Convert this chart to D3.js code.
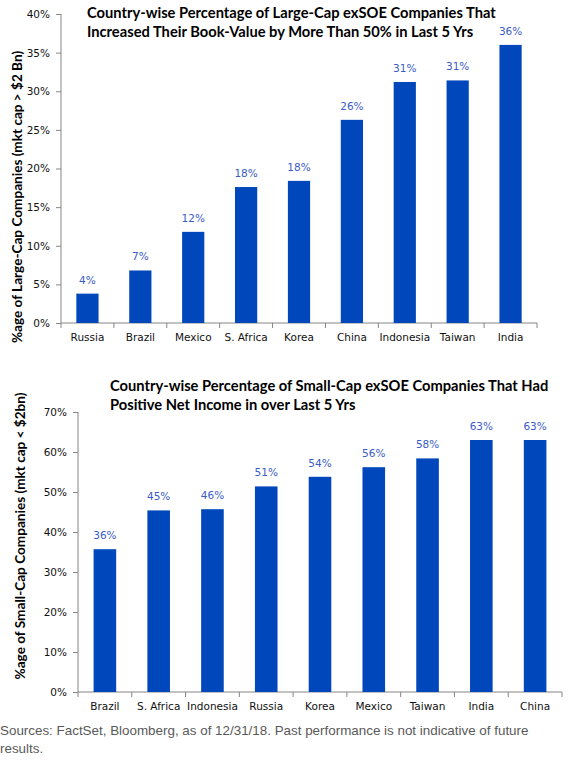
<!DOCTYPE html>
<html>
<head>
<meta charset="utf-8">
<script src="https://cdn.jsdelivr.net/npm/d3@7"></script>
<style>
  body { margin: 0; background: #fff; }
  svg { display: block; }
</style>
</head>
<body>
<div id="chart-area"></div>
<script>
// two bar charts stacked, plus source note
const W = 575, H = 764

const largeCountries = ["Russia", "Brazil", "Mexico", "S. Africa", "Korea", "China", "Indonesia", "Taiwan", "India"]
const largeValues = [0.038, 0.068, 0.118, 0.176, 0.184, 0.263, 0.312, 0.314, 0.360]
const largeTicks = [0, 0.05, 0.10, 0.15, 0.20, 0.25, 0.30, 0.35, 0.40]

const smallCountries = ["Brazil", "S. Africa", "Indonesia", "Russia", "Korea", "Mexico", "Taiwan", "India", "China"]
const smallValues = [0.357, 0.454, 0.457, 0.514, 0.538, 0.562, 0.584, 0.630, 0.630]
const smallTicks = [0, 0.10, 0.20, 0.30, 0.40, 0.50, 0.60, 0.70]

const BAR = "#0047BB"
const LABEL = "#3A5CC8"
const AXIS = "#868686"

const svg = d3.select("#chart-area")
  .append("svg")
  .attr("width", W)
  .attr("height", H)

function barChart(cfg) {
  const g = svg.append("g")

  const x = d3.scaleBand()
    .domain(cfg.cats)
    .range([cfg.left, cfg.right])
    .paddingInner(0.58)
    .paddingOuter(0.29)

  const y = d3.scaleLinear()
    .domain([0, cfg.max])
    .range([cfg.bottom, cfg.top])

  // y axis
  const yAxis = g.append("g")
    .attr("transform", `translate(${cfg.left},0)`)
    .call(d3.axisLeft(y).tickValues(cfg.ticks).tickFormat(d3.format(".0%")).tickSize(5).tickPadding(6))
  yAxis.select(".domain").attr("stroke", AXIS).attr("d", `M0,${cfg.bottom}V${cfg.top}`)
  yAxis.selectAll(".tick line").attr("stroke", AXIS)
  yAxis.selectAll(".tick text")
    .attr("font-family", "DejaVu Sans, Verdana, sans-serif")
    .attr("font-size", 10.5)
    .attr("fill", "#111")

  // x axis, ticks between categories like Excel
  const xAxis = g.append("g")
    .attr("transform", `translate(0,${cfg.bottom})`)
    .call(d3.axisBottom(x).tickSize(0).tickPadding(11))
  xAxis.select(".domain").attr("stroke", AXIS).attr("d", `M${cfg.left},0H${cfg.right}`)
  xAxis.selectAll(".tick text")
    .attr("font-family", "DejaVu Sans, Verdana, sans-serif")
    .attr("font-size", 10.5)
    .attr("fill", "#111")
  xAxis.selectAll(".sep")
    .data(d3.range(cfg.cats.length + 1))
    .enter()
    .append("line")
    .attr("class", "sep")
    .attr("x1", i => x.range()[0] + i * x.step())
    .attr("x2", i => x.range()[0] + i * x.step())
    .attr("y1", 0)
    .attr("y2", 5)
    .attr("stroke", AXIS)

  // bars
  g.selectAll("rect.bar")
    .data(cfg.vals)
    .enter()
    .append("rect")
    .attr("class", "bar")
    .attr("x", (d, i) => x(cfg.cats[i]))
    .attr("width", x.bandwidth())
    .attr("y", d => y(d))
    .attr("height", d => y(0) - y(d))
    .attr("fill", BAR)

  // value labels
  g.selectAll("text.val")
    .data(cfg.vals)
    .enter()
    .append("text")
    .attr("class", "val")
    .attr("x", (d, i) => x(cfg.cats[i]) + x.bandwidth() / 2)
    .attr("y", d => y(d) - 10)
    .attr("text-anchor", "middle")
    .attr("font-family", "DejaVu Sans, Verdana, sans-serif")
    .attr("font-size", 10.5)
    .attr("fill", LABEL)
    .text(d => d3.format(".0%")(d))

  // title
  const t = g.append("text")
    .attr("font-family", "Lato, sans-serif")
    .attr("font-weight", "bold")
    .attr("font-size", 14.7)
    .attr("fill", "#000")
  cfg.title.forEach((line, i) => {
    t.append("tspan")
      .attr("x", cfg.titleX)
      .attr("y", cfg.titleY + i * 19)
      .text(line)
  })

  // y label
  g.append("text")
    .attr("transform", `translate(${cfg.ylabX},${cfg.ylabY}) rotate(-90)`)
    .attr("text-anchor", "middle")
    .attr("font-family", "Lato, sans-serif")
    .attr("font-weight", "bold")
    .attr("font-size", 13.6)
    .attr("fill", "#000")
    .text(cfg.ylab)
}

barChart({
  cats: largeCountries, vals: largeValues, ticks: largeTicks, max: 0.40,
  left: 61, right: 537, top: 14, bottom: 323,
  title: ["Country-wise Percentage of Large-Cap exSOE Companies That",
          "Increased Their Book-Value by More Than 50% in Last 5 Yrs"],
  titleX: 87, titleY: 18,
  ylab: "%age of Large-Cap Companies (mkt cap > $2 Bn)", ylabX: 22, ylabY: 197
})

barChart({
  cats: smallCountries, vals: smallValues, ticks: smallTicks, max: 0.70,
  left: 78, right: 562, top: 412, bottom: 692,
  title: ["Country-wise Percentage of Small-Cap exSOE Companies That Had",
          "Positive Net Income in over Last 5 Yrs"],
  titleX: 110, titleY: 391,
  ylab: "%age of Small-Cap Companies (mkt cap < $2bn)", ylabX: 25, ylabY: 536
})

// source note
const note = svg.append("text")
  .attr("font-family", "Liberation Sans, Arial, sans-serif")
  .attr("font-size", 13.4)
  .attr("fill", "#595959")
note.append("tspan").attr("x", 0).attr("y", 735)
  .text("Sources: FactSet, Bloomberg, as of 12/31/18. Past performance is not indicative of future")
note.append("tspan").attr("x", 0).attr("y", 753)
  .text("results.")
</script>
</body>
</html>
